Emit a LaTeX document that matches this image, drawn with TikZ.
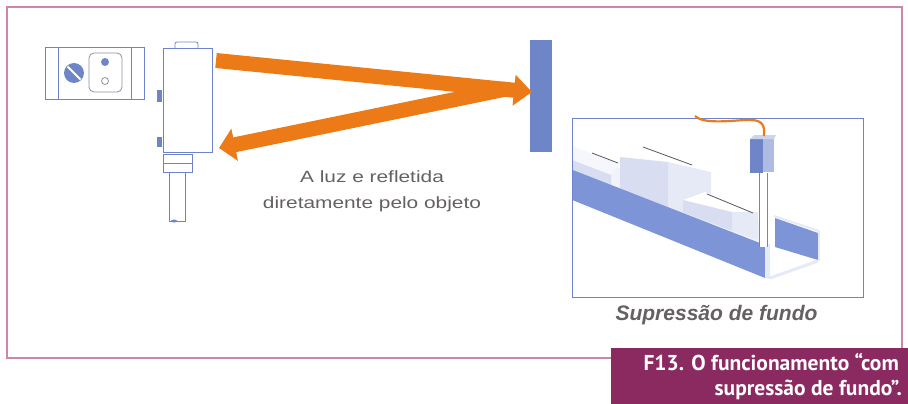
\documentclass[tikz,border=0pt]{standalone}
\usepackage{fontspec}
\setmainfont{Liberation Sans}
\newfontfamily\capfont{PT Sans}
\usetikzlibrary{arrows.meta}

\definecolor{framepink}{HTML}{CF86A6}
\definecolor{capmaroon}{HTML}{8B2A61}
\definecolor{beam}{HTML}{EC7A17}
\definecolor{steel}{HTML}{6E86C8}
\definecolor{outline}{HTML}{6F82CC}
\definecolor{greyline}{HTML}{8C90A6}
\definecolor{labelgrey}{HTML}{656061}
\definecolor{railblue}{HTML}{7D95D6}
\definecolor{facedark}{HTML}{D8DDF2}
\definecolor{facelight}{HTML}{E6E9F6}
\definecolor{facetop}{HTML}{F1F3FB}

\tikzset{
  part/.style={draw=outline, line width=0.8pt},
  lightray/.style={draw=beam, line width=15pt},
  note/.style={text=labelgrey, font=\fontsize{16.3}{26}\selectfont,
    anchor=base, xscale=1.28, inner sep=0pt},
  captionline/.style={anchor=base east, text=white, inner sep=0pt,
    font=\capfont\bfseries\fontsize{21.5}{25}\selectfont},
}

\begin{document}
\begin{tikzpicture}[x=1pt, y=-1pt]
\useasboundingbox (0,0) rectangle (908,404);

% outer frame and caption tab
\draw[framepink, line width=1.2pt] (611,358) -- (7,358) -- (7,7) -- (902,7) -- (902,348);
\node[fill=capmaroon, minimum width=297pt, minimum height=56pt, inner sep=0pt,
      anchor=north west] (tab) at (611,348) {};
\node[captionline] (caption1) at (899,370) {F13. O funcionamento “com};
\node[captionline] (caption2) at (902,395) {supressão de fundo”.};

% mounting plate
\node[part, minimum width=99pt, minimum height=52pt, inner sep=0pt] (plate) at (94.5,73) {};
\draw[part] (58,47) -- (58,99) (131,47) -- (131,99);
\fill[steel] (74,73) circle (10);
\draw[white, line width=2pt] (67.5,66.5) -- (80.5,79.5);
\draw[greyline, line width=0.8pt, rounded corners=5pt] (89,53) rectangle (122,92);
\fill[steel] (105,62) circle (4);
\draw[greyline, line width=0.8pt] (105,81) circle (3.5);

% sensor housing
\draw[part, rounded corners=2pt] (175,48) -- (175,42) -- (198,42) -- (198,48);
\node[part, minimum width=49pt, minimum height=104pt, inner sep=0pt] (body) at (187.5,100) {};
\fill[steel] (157,90) rectangle (162,102);
\fill[steel] (157,137) rectangle (162,147);
\draw[part] (163,154) rectangle (192,172);
\draw[part] (163,163) -- (192,163);
\draw[part] (169,172) -- (169,221) -- (185,221) -- (185,172);
\fill[steel] (174,221) ellipse (3 and 1.5);

% reflecting object
\node[fill=steel, minimum width=22pt, minimum height=112pt, inner sep=0pt] (target) at (541,96) {};

% emitted and returned light
\coordinate (emit) at (216,60.5);
\coordinate (hit) at (532,92);
\coordinate (bounce) at (506,89);
\coordinate (back) at (219,148);
\draw[lightray, -{Triangle[length=18pt, width=30pt]}] (emit) -- (hit);
\draw[lightray, -{Triangle[length=16pt, width=32pt]}] (bounce) -- (back);

\node[note] (note1) at (372,182) {A luz e refletida};
\node[note] (note2) at (372,208) {diretamente pelo objeto};

% conveyor sketch
\begin{scope}
\clip (572,118) rectangle (863,297);
% far rail and end frame
\fill[railblue] (775,218) -- (818,233) -- (818,260) -- (775,247) -- cycle;
\draw[facelight, line width=2pt] (774,216) -- (819,231);
\draw[facelight, line width=3pt] (770,278) -- (818,261);
\draw[facelight, line width=2pt] (819,231) -- (819,261);
% belt surface
\fill[facetop] (572,150) -- (760,222) -- (765,245) -- (572,170) -- cycle;
% small box
\fill[facetop!70!white] (572,146) -- (620,164) -- (611,175) -- (572,160) -- cycle;
\fill[facedark] (572,160) -- (611,175) -- (611,186) -- (572,171) -- cycle;
\draw[black!65, line width=0.8pt] (592,153) -- (618,163);
% tall box
\fill[white] (620,157) -- (643,147) -- (711,172) -- (668,162) -- cycle;
\fill[facedark] (620,157) -- (668,162) -- (668,207) -- (620,189) -- cycle;
\fill[facelight] (668,162) -- (711,172) -- (711,224) -- (668,207) -- cycle;
\draw[black!65, line width=0.8pt] (643,147) -- (692,165);
% low box
\fill[white] (683,200) -- (705,192) -- (758,212) -- (732,220) -- cycle;
\fill[facedark] (683,200) -- (732,212) -- (732,231) -- (683,212) -- cycle;
\fill[facelight] (732,212) -- (758,212) -- (758,240) -- (732,231) -- cycle;
\draw[black!65, line width=0.8pt] (707,194) -- (753,213);
% near rail
\fill[railblue] (560,165) -- (765,245) -- (765,278) -- (560,195) -- cycle;
\fill[facelight] (765,245) -- (770,244) -- (770,279) -- (765,278) -- cycle;
% sensor on its bracket
\fill[white] (759,173) rectangle (767,247);
\draw[outline, line width=0.8pt] (759,173) -- (759,247) (767,173) -- (767,247);
\fill[steel] (750,139) rectangle (763,173);
\fill[steel!55] (763,139) rectangle (774,172);
\fill[steel!35] (750,139) -- (754,135) -- (776,135) -- (774,139) -- cycle;
\end{scope}
\draw[outline, line width=0.8pt] (572,118) rectangle (863,297);
\coordinate (plug) at (764,136);
\coordinate (loose) at (695,116);
\draw[beam, line width=2.2pt] (plug) .. controls (765,124) and (762,119) .. (745,120)
  .. controls (728,121) and (703,124) .. (loose);

\node[anchor=base, text=labelgrey, inner sep=0pt,
      font=\bfseries\itshape\fontsize{21}{24}\selectfont] (title) at (716.5,320)
  {Supressão de fundo};
\end{tikzpicture}
\end{document}
